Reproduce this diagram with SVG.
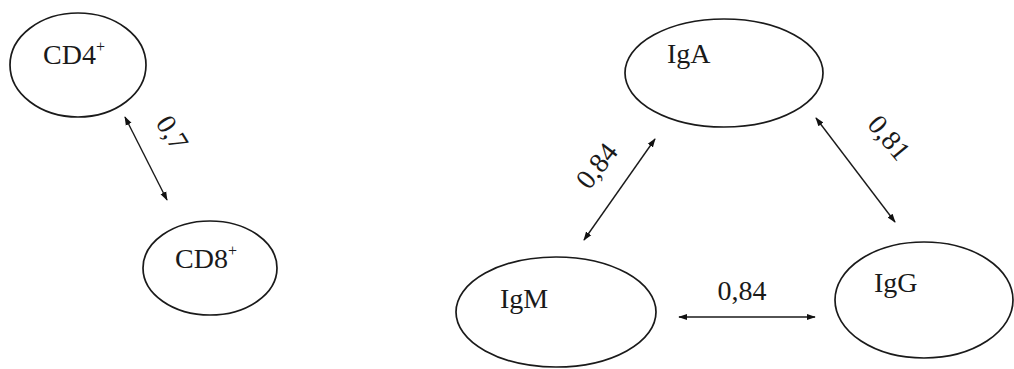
<svg xmlns="http://www.w3.org/2000/svg" width="1014" height="369" viewBox="0 0 1014 369">
  <defs>
    <marker id="head" viewBox="0 0 10 10" refX="9" refY="5" markerWidth="9" markerHeight="9" markerUnits="userSpaceOnUse" orient="auto-start-reverse">
      <path d="M0,1.5 L10,5 L0,8.5 z" fill="#111"/>
    </marker>
    <style>
      .node { fill: #fff; stroke: #1a1a1a; stroke-width: 1.7; }
      .lbl { font-family: "Liberation Serif", "Times New Roman", serif; font-size: 28px; fill: #1a1a1a; }
      .sup { font-size: 16px; }
      .link { stroke: #1a1a1a; stroke-width: 1.4; fill: none; marker-start: url(#head); marker-end: url(#head); }
    </style>
  </defs>
  <rect width="1014" height="369" fill="#fff"/>

  <g id="cd4">
    <ellipse class="node" cx="78" cy="65" rx="68" ry="52"/>
    <text class="lbl" x="43" y="64">CD4<tspan class="sup" dy="-12">+</tspan></text>
  </g>
  <g id="cd8">
    <ellipse class="node" cx="210" cy="268" rx="67" ry="47"/>
    <text class="lbl" x="175" y="268">CD8<tspan class="sup" dy="-12">+</tspan></text>
  </g>
  <g id="iga">
    <ellipse class="node" cx="724" cy="73" rx="99" ry="54"/>
    <text class="lbl" x="667" y="63">IgA</text>
  </g>
  <g id="igm">
    <ellipse class="node" cx="556" cy="312" rx="100" ry="55"/>
    <text class="lbl" x="500" y="308">IgM</text>
  </g>
  <g id="igg">
    <ellipse class="node" cx="924" cy="300" rx="89" ry="58"/>
    <text class="lbl" x="874" y="292">IgG</text>
  </g>

  <g id="connectors">
    <line class="link" x1="125" y1="117" x2="167" y2="200"/>
    <line class="link" x1="655" y1="139" x2="584" y2="240"/>
    <line class="link" x1="816" y1="118" x2="895" y2="222"/>
    <line class="link" x1="679" y1="317" x2="815" y2="317"/>
    <text class="lbl" text-anchor="middle" transform="translate(172,133) rotate(58)" y="9">0,7</text>
    <text class="lbl" text-anchor="middle" transform="translate(597,166) rotate(-52)" y="9">0,84</text>
    <text class="lbl" text-anchor="middle" transform="translate(889,138) rotate(50)" y="9">0,81</text>
    <text class="lbl" text-anchor="middle" x="742" y="300">0,84</text>
  </g>
</svg>
